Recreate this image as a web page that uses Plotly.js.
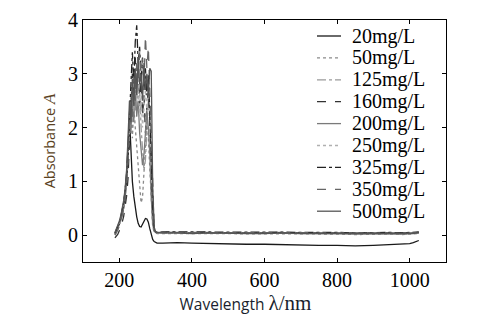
<!DOCTYPE html>
<html>
<head>
<meta charset="utf-8">
<script src="https://cdn.plot.ly/plotly-3.0.1.min.js"></script>
<style>html,body{margin:0;padding:0;background:#fff;}#chart{width:478px;height:327px;}</style>
</head>
<body>
<div id="chart"></div>
<script>
// wavelength grid (nm)
const wavelength = [188,192,196,200,204,208,212,216,220,224,228,232,236,240,244,248,252,256,260,264,268,272,276,280,284,288,292,296,300,304,
  320,360,400,450,500,550,600,650,700,750,800,850,900,950,980,1000,1010,1020,1025];

const seriesNames = ['20mg/L','50mg/L','125mg/L','160mg/L','200mg/L','250mg/L','325mg/L','350mg/L','500mg/L'];

const a20  = [0.03,0.08,0.14,0.20,0.28,0.38,0.50,0.68,0.95,1.35,2.20,1.40,1.00,0.72,0.50,0.34,0.22,0.16,0.15,0.20,0.27,0.31,0.30,0.24,0.12,0.00,-0.08,-0.12,-0.14,-0.15,
  -0.15,-0.14,-0.15,-0.16,-0.16,-0.17,-0.17,-0.18,-0.18,-0.19,-0.19,-0.20,-0.19,-0.18,-0.17,-0.16,-0.14,-0.12,-0.10];
const a50  = [0.02,0.06,0.12,0.20,0.30,0.42,0.58,0.80,1.10,1.60,1.90,2.30,1.80,2.40,2.00,1.60,1.20,0.80,0.60,0.70,1.10,1.70,2.10,1.80,1.20,0.50,0.15,0.06,0.04,0.03,
  0.03,0.03,0.02,0.03,0.02,0.02,0.02,0.03,0.02,0.02,0.02,0.01,0.02,0.02,0.01,0.02,0.02,0.03,0.03];
const a125 = [0.00,0.05,0.10,0.18,0.27,0.38,0.52,0.72,1.00,1.50,2.00,2.60,2.10,2.80,2.30,2.90,2.40,2.70,2.00,1.50,1.20,1.40,2.00,2.50,2.20,1.40,0.50,0.12,0.05,0.04,
  0.04,0.04,0.03,0.04,0.03,0.03,0.03,0.04,0.03,0.03,0.03,0.03,0.03,0.03,0.02,0.03,0.03,0.04,0.04];
const a160 = [-0.05,-0.02,0.02,0.08,0.15,0.24,0.35,0.50,0.72,1.05,1.60,2.40,3.00,2.50,3.30,2.70,3.10,2.40,2.90,2.20,2.60,1.90,2.40,2.70,2.10,1.30,0.40,0.10,0.05,0.04,
  0.05,0.05,0.04,0.05,0.04,0.04,0.04,0.05,0.04,0.04,0.04,0.03,0.04,0.04,0.03,0.04,0.04,0.05,0.05];
const a200 = [0.04,0.10,0.16,0.24,0.33,0.45,0.60,0.82,1.15,1.70,2.30,1.90,2.60,2.10,2.80,2.20,2.50,1.90,1.60,1.30,1.50,1.90,2.30,2.00,1.50,0.70,0.20,0.07,0.05,0.04,
  0.04,0.04,0.03,0.04,0.03,0.03,0.03,0.03,0.03,0.03,0.03,0.02,0.03,0.03,0.02,0.03,0.03,0.04,0.04];
const a250 = [0.02,0.07,0.13,0.21,0.30,0.41,0.56,0.76,1.05,1.50,2.00,2.50,2.90,2.30,3.00,2.50,2.80,2.20,2.60,2.00,2.40,2.70,2.30,2.90,2.40,1.60,0.60,0.15,0.06,0.05,
  0.05,0.05,0.04,0.05,0.04,0.04,0.04,0.05,0.04,0.04,0.04,0.04,0.04,0.04,0.03,0.04,0.04,0.05,0.05];
const a325 = [0.03,0.09,0.15,0.23,0.33,0.45,0.60,0.82,1.12,1.60,2.30,2.90,3.40,2.80,3.60,3.90,3.20,3.50,2.90,3.30,2.70,3.10,2.60,3.00,2.40,1.50,0.50,0.12,0.06,0.05,
  0.06,0.06,0.05,0.06,0.05,0.05,0.05,0.06,0.05,0.05,0.05,0.04,0.05,0.05,0.04,0.05,0.05,0.06,0.06];
const a350 = [0.00,0.04,0.10,0.17,0.26,0.37,0.50,0.70,0.98,1.40,2.00,2.60,2.20,2.90,2.50,3.20,2.80,3.40,3.00,3.30,2.80,3.70,3.10,3.50,2.70,1.80,0.60,0.15,0.06,0.05,
  0.05,0.05,0.04,0.05,0.04,0.04,0.04,0.05,0.04,0.04,0.04,0.04,0.04,0.04,0.03,0.04,0.04,0.05,0.05];
const a500 = [0.05,0.11,0.18,0.26,0.36,0.48,0.64,0.86,1.20,1.80,2.50,2.10,2.90,2.40,3.10,2.60,3.30,2.80,3.00,2.50,3.20,2.70,3.00,2.60,3.10,3.05,0.90,0.15,0.06,0.05,
  0.04,0.04,0.03,0.04,0.03,0.03,0.03,0.04,0.03,0.03,0.03,0.03,0.03,0.03,0.02,0.03,0.03,0.04,0.04];

const seriesValues = [a20,a50,a125,a160,a200,a250,a325,a350,a500];
const seriesColors = ['#1a1a1a','#8a8a8a','#9a9a9a','#333333','#7a7a7a','#b0b0b0','#222222','#666666','#555555'];
const seriesDash   = ['solid','dot','dashdot','dash','solid','dot','dashdot','dash','solid'];

const xTicks = [200,400,600,800,1000];
const yTicks = [0,1,2,3,4];

const traces = seriesNames.map((n,i)=>({
  type:'scatter', mode:'lines', name:n, x:wavelength, y:seriesValues[i],
  line:{color:seriesColors[i], width:1.3, dash:seriesDash[i]}, showlegend:false
}));

// legend drawn as annotations + sample lines (paper coordinates)
const plotL=83, plotR=446, plotT=20, plotB=262;
const pw=plotR-plotL, ph=plotB-plotT;
const annotations=[], shapes=[];
seriesNames.forEach((n,i)=>{
  const yc = 36 + 21.9*i;
  const yp = (plotB - yc)/ph;
  annotations.push({xref:'paper',yref:'paper',x:(350-plotL)/pw,y:yp,xanchor:'left',yanchor:'middle',
    text:n,showarrow:false,font:{family:'Liberation Serif',size:20,color:'#000'}});
  shapes.push({type:'line',xref:'paper',yref:'paper',x0:(317-plotL)/pw,x1:(341-plotL)/pw,y0:yp,y1:yp,
    line:{color:seriesColors[i],width:1.3,dash:seriesDash[i]}});
});

const layout = {
  width:478, height:327,
  margin:{l:plotL, r:478-plotR, t:plotT, b:327-plotB},
  paper_bgcolor:'#fff', plot_bgcolor:'#fff',
  showlegend:false,
  xaxis:{range:[100,1100], tickvals:xTicks, ticktext:xTicks.map(String), ticks:'inside', ticklen:4, tickcolor:'#000',
    showline:true, linecolor:'#000', linewidth:1, mirror:'ticks', showgrid:false, zeroline:false,
    tickfont:{family:'Liberation Serif',size:20,color:'#000'},
    title:{text:'Wavelength <span style="font-family:Liberation Serif;font-size:21px">λ/nm</span><span style="color:rgba(255,255,255,0)">nnnn</span>',
      font:{family:'Open Sans',size:15.5,color:'#1a1f2e'}, standoff:3}},
  yaxis:{range:[-0.5,4], tickvals:yTicks, ticktext:yTicks.map(String), ticks:'inside', ticklen:4, tickcolor:'#000',
    showline:true, linecolor:'#000', linewidth:1, mirror:'ticks', showgrid:false, zeroline:false,
    tickfont:{family:'Liberation Serif',size:20,color:'#000'},
    title:{text:'Absorbance <i><span style="font-family:Liberation Serif;font-size:17px">A</span></i>',
      font:{family:'Open Sans',size:14.5,color:'#5a4222'}, standoff:8}},
  annotations:annotations, shapes:shapes
};

Plotly.newPlot('chart', traces, layout, {staticPlot:true, displayModeBar:false});
</script>
</body>
</html>
